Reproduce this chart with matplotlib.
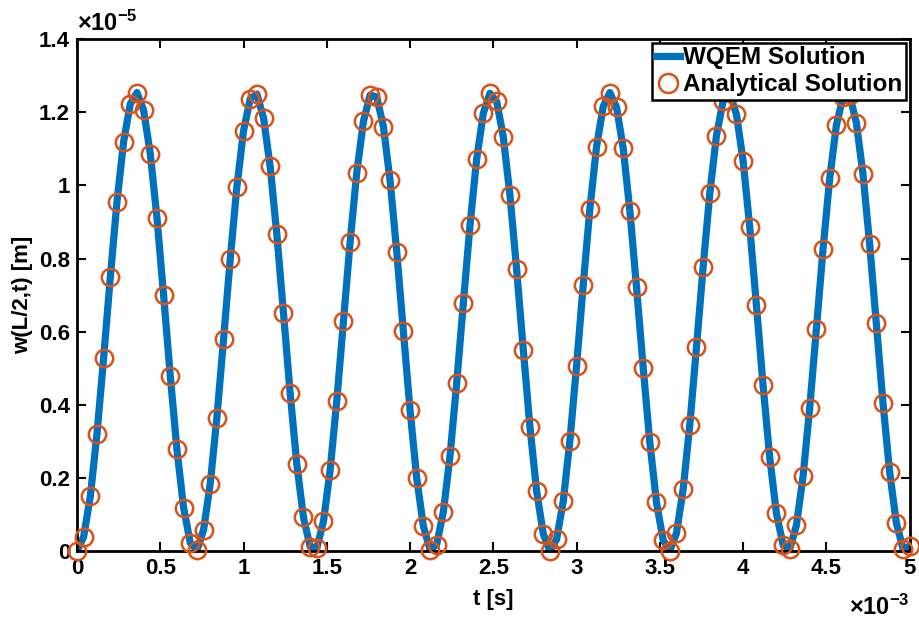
import numpy as np
import matplotlib
matplotlib.use("Agg")
import matplotlib.pyplot as plt
from matplotlib.ticker import FuncFormatter, MultipleLocator

# time grid in units of 1e-3 s (sampled every 0.04e-3 s)
t_ms = np.round(np.arange(126) * 0.04, 2)

# w(L/2,t) in units of 1e-5 m, read off the circles
# (WQEM line lies on top of the analytical points)
w_analytical = [
    0.000, 0.039, 0.150, 0.321, 0.529, 0.749, 0.955, 1.120, 1.223, 1.254, 1.206, 1.087, 0.912, 0.700, 0.480, 0.278, 0.119, 0.023,
    0.002, 0.058, 0.184, 0.365, 0.579, 0.798, 0.996, 1.149, 1.237, 1.250, 1.185, 1.052, 0.866, 0.651, 0.432, 0.238, 0.092, 0.012,
    0.008, 0.081, 0.221, 0.411, 0.628, 0.845, 1.035, 1.175, 1.247, 1.242, 1.161, 1.014, 0.819, 0.601, 0.386, 0.200, 0.068, 0.004,
    0.018, 0.107, 0.260, 0.459, 0.678, 0.891, 1.072, 1.197, 1.252, 1.230, 1.133, 0.973, 0.771, 0.551, 0.340, 0.165, 0.047, 0.000,
    0.032, 0.136, 0.302, 0.507, 0.728, 0.936, 1.106, 1.216, 1.254, 1.214, 1.102, 0.931, 0.722, 0.502, 0.297, 0.133, 0.030, 0.001,
    0.049, 0.169, 0.345, 0.557, 0.777, 0.978, 1.136, 1.231, 1.252, 1.195, 1.068, 0.886, 0.673, 0.453, 0.256, 0.104, 0.017, 0.005,
    0.070, 0.204, 0.391, 0.607, 0.825, 1.019, 1.164, 1.243, 1.246, 1.172, 1.031, 0.840, 0.623, 0.406, 0.217, 0.078, 0.007, 0.013,
]
w_wqem = w_analytical

plt.rcParams["font.family"] = ["Liberation Sans", "DejaVu Sans"]
plt.rcParams["font.weight"] = "bold"
plt.rcParams["mathtext.fontset"] = "custom"
plt.rcParams["mathtext.rm"] = "Liberation Sans:bold"
plt.rcParams["mathtext.bf"] = "Liberation Sans:bold"
plt.rcParams["mathtext.default"] = "rm"

fig = plt.figure(figsize=(9.2, 6.22), dpi=100)
ax = fig.add_axes([0.0837, 0.114, 0.905, 0.823])

ax.plot(t_ms, w_wqem, color="#0072BD", lw=5.2, solid_joinstyle="round",
        label="WQEM Solution", zorder=2)
ax.plot(t_ms, w_analytical, ls="none", marker="o", ms=12.5, mfc="none",
        mec="#D95319", mew=1.8, label="Analytical Solution", clip_on=False, zorder=3)

ax.set_xlim(0, 5)
ax.set_ylim(0, 1.4)
ax.xaxis.set_major_locator(MultipleLocator(0.5))
ax.yaxis.set_major_locator(MultipleLocator(0.2))
fmt = FuncFormatter(lambda v, pos: f"{v:g}")
ax.xaxis.set_major_formatter(fmt)
ax.yaxis.set_major_formatter(fmt)
ax.tick_params(direction="in", length=6.5, width=1.5, top=True, right=True,
               labelsize=16, pad=5)
for s in ax.spines.values():
    s.set_linewidth(2)

ax.set_xlabel("t [s]", fontsize=16, fontweight="bold", labelpad=7)
ax.set_ylabel("w(L/2,t) [m]", fontsize=16, fontweight="bold", labelpad=4)

ax.text(0.0, 1.006, r"$\times10^{-5}$", transform=ax.transAxes,
        ha="left", va="bottom", fontsize=17)
ax.text(1.0, -0.085, r"$\times10^{-3}$", transform=ax.transAxes,
        ha="right", va="top", fontsize=17)

leg = ax.legend(loc="upper right", fontsize=17.5, frameon=True, fancybox=False,
                edgecolor="black", framealpha=1, borderpad=0.15, handlelength=1.0,
                handletextpad=0.12, labelspacing=0.15, borderaxespad=0.15,
                markerscale=1.1)
leg.get_frame().set_linewidth(1.8)

fig.savefig("out.png", dpi=100)
